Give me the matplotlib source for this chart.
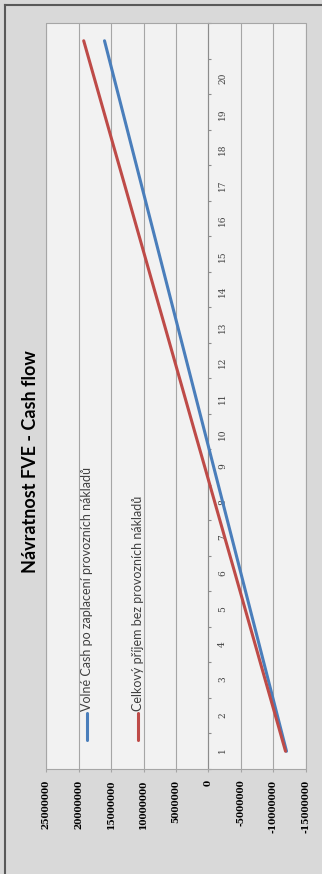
import matplotlib
matplotlib.use("Agg")
import matplotlib.pyplot as plt
from matplotlib.lines import Line2D
from matplotlib.patches import Rectangle


TITLE = "Návratnost FVE - Cash flow"

YEARS = ["1", "2", "3", "4", "5", "6", "7", "8", "9", "10",
         "11", "12", "13", "14", "15", "16", "17", "18", "19", "20", ""]

FREE_CASH_LABEL = "Volné Cash po zaplacení provozních nákladů"
FREE_CASH = [-12000000, -10600000, -9200000, -7800000, -6400000, -5000000,
             -3600000, -2200000, -800000, 600000, 2000000, 3400000,
             4800000, 6200000, 7600000, 9000000, 10400000, 11800000,
             13200000, 14600000, 16000000]

TOTAL_INCOME_LABEL = "Celkový příjem bez provozních nákladů"
TOTAL_INCOME = [-11850000, -10300000, -8740000, -7190000, -5640000, -4090000,
                -2530000, -980000, 570000, 2130000, 3680000, 5230000,
                6780000, 8340000, 9890000, 11440000, 12990000, 14550000,
                16100000, 17650000, 19200000]

VALUE_TICKS = [25000000, 20000000, 15000000, 10000000, 5000000, 0,
               -5000000, -10000000, -15000000]

BLUE = "#4a7ebb"
RED = "#be4b48"
GRID = "#a6a6a6"

W, H = 322, 874

plt.rcParams["font.family"] = ["Lato", "DejaVu Sans"]


def fx(px):
    return px / W


def fy(py):
    return 1 - py / H


def legend_entry(fig, x_px, label, color):
    fig.add_artist(Line2D([fx(x_px), fx(x_px)], [fy(740), fy(713)],
                          color=color, lw=2.2, solid_capstyle="round"))
    fig.text(fx(x_px), fy(711), label, rotation=90, rotation_mode="anchor",
             ha="left", va="center", fontsize=9, color="#404040")


fig = plt.figure(figsize=(W / 100, H / 100), dpi=100, facecolor="#d9d9d9")

# plot area (chart is drawn turned by 90 degrees)
ax = fig.add_axes([fx(46), fy(769), fx(260), 746 / H])
ax.set_facecolor("#f2f2f2")

positions = list(range(1, len(YEARS) + 1))
ax.plot(FREE_CASH, positions, color=BLUE, lw=2.2, solid_capstyle="round", zorder=3)
ax.plot(TOTAL_INCOME, positions, color=RED, lw=2.2, solid_capstyle="round", zorder=3)

ax.set_xlim(25000000, -15000000)
ax.set_ylim(0.5, len(YEARS) + 0.5)

ax.set_xticks(VALUE_TICKS)
ax.set_xticklabels([str(v) for v in VALUE_TICKS], rotation=90, fontsize=6.5,
                   fontweight="bold", family="DejaVu Serif")
ax.tick_params(axis="x", length=2.2, color=GRID, pad=5.5)
ax.xaxis.grid(True, color=GRID, lw=0.8)
ax.set_axisbelow(True)

for side in ["top", "bottom", "left"]:
    ax.spines[side].set_visible(False)
ax.spines["right"].set_position(("data", 0))
ax.spines["right"].set_color("#8c8c8c")
ax.spines["right"].set_linewidth(0.8)

ax.yaxis.tick_right()
ax.set_yticks([p - 0.5 for p in positions] + [len(YEARS) + 0.5])
ax.set_yticks(positions, minor=True)
ax.set_yticklabels([], minor=False)
ax.set_yticklabels(YEARS, minor=True, rotation=90, fontsize=6.5,
                   color="#404040", family="DejaVu Serif")
ax.tick_params(axis="y", which="major", direction="out", length=2.2,
               color="#8c8c8c", width=0.8)
ax.tick_params(axis="y", which="minor", length=0, pad=7)

ax.add_patch(Rectangle((0, 0), 1, 1, transform=ax.transAxes, fill=False,
                       edgecolor=GRID, lw=0.8, clip_on=False, zorder=4))

# outer frame
fig.add_artist(Line2D([fx(4.5), 1], [fy(4.5), fy(4.5)], color="#595959", lw=1.5))
fig.add_artist(Line2D([fx(4.5), fx(4.5)], [0, fy(4.5)], color="#595959", lw=1.5))

fig.text(fx(31), fy(462), TITLE, rotation=90, ha="center", va="center",
         fontsize=13, fontweight="bold")

legend_entry(fig, 87, FREE_CASH_LABEL, BLUE)
legend_entry(fig, 138, TOTAL_INCOME_LABEL, RED)

fig.savefig("out.png", dpi=100, facecolor=fig.get_facecolor())
